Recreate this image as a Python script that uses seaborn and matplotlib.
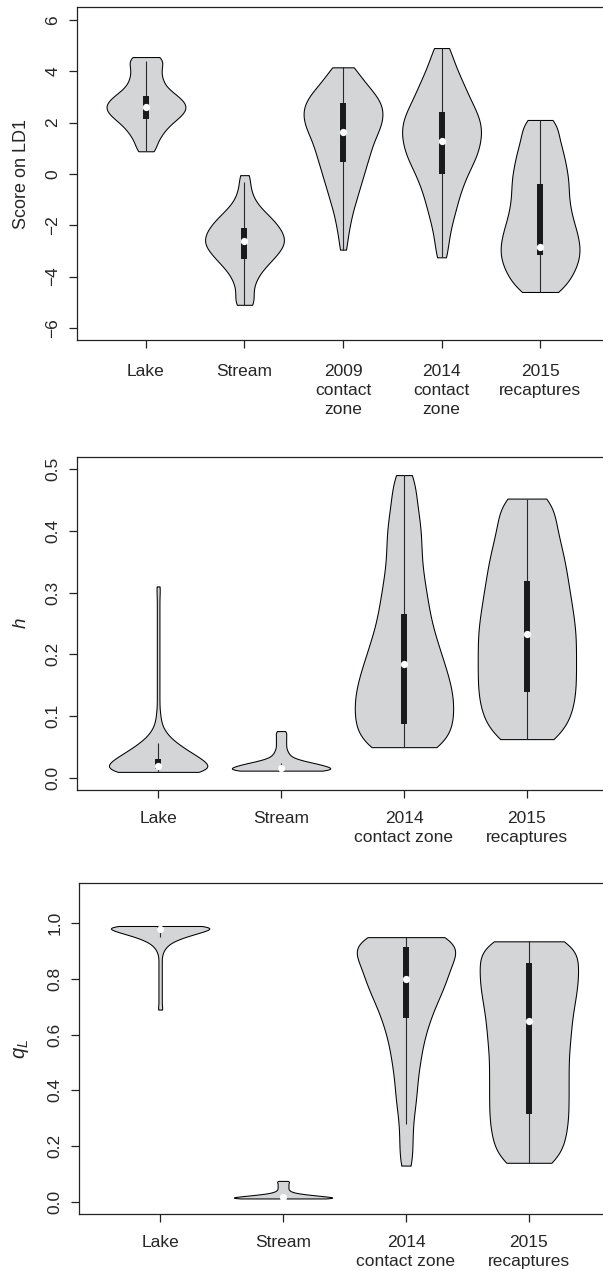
import numpy as np
import matplotlib
matplotlib.use("Agg")
import matplotlib.pyplot as plt
import seaborn as sns

# ==========================================================
# Group labels
# ==========================================================

ld1_groups = ["Lake", "Stream", "2009\ncontact\nzone", "2014\ncontact\nzone", "2015\nrecaptures"]
hq_groups = ["Lake", "Stream", "2014\ncontact zone", "2015\nrecaptures"]

# ==========================================================
# Score on LD1 - violin profiles (level, relative count)
# ==========================================================

ld1_lake_y = [0.88, 1.1, 1.35, 1.6, 1.85, 2.1, 2.35, 2.6, 2.85, 3.1, 3.35, 3.6, 3.85, 4.1, 4.35, 4.55]
ld1_lake_n = [5, 4, 6, 8, 10, 14, 18, 20, 18, 14, 9, 8, 7, 7, 7, 9]

ld1_stream_y = [-5.1, -4.8, -4.5, -4.2, -3.9, -3.6, -3.3, -3.0, -2.7, -2.4, -2.1, -1.8, -1.5, -1.2, -0.9, -0.6, -0.3, -0.05]
ld1_stream_n = [6, 4, 4, 5, 7, 10, 14, 17, 20, 19, 17, 14, 10, 6, 4, 3, 2, 3]

ld1_2009_y = [-2.95, -2.55, -2.15, -1.75, -1.35, -0.95, -0.55, -0.15, 0.25, 0.65, 1.05, 1.45, 1.85, 2.25, 2.65, 3.05, 3.45, 3.85, 4.15]
ld1_2009_n = [2, 2, 3, 4, 5, 7, 8, 10, 11, 13, 14, 16, 19, 20, 20, 17, 12, 7, 5]

ld1_2014_y = [-3.25, -2.8, -2.35, -1.9, -1.45, -1.0, -0.55, -0.1, 0.35, 0.8, 1.25, 1.7, 2.15, 2.6, 3.05, 3.5, 3.95, 4.4, 4.9]
ld1_2014_n = [3, 3, 4, 5, 7, 8, 10, 12, 15, 18, 19, 20, 19, 16, 13, 11, 8, 6, 5]

ld1_2015_y = [-4.6, -4.2, -3.8, -3.4, -3.0, -2.6, -2.2, -1.8, -1.4, -1.0, -0.6, -0.2, 0.2, 0.6, 1.0, 1.4, 1.8, 2.1]
ld1_2015_n = [11, 14, 17, 19, 20, 19, 18, 16, 15, 14, 14, 14, 13, 12, 11, 9, 8, 7]

# box stats: q1, median, q3, whisker low / high
ld1_q1 = [2.15, -3.3, 0.45, -0.02, -3.15]
ld1_med = [2.62, -2.62, 1.62, 1.28, -2.85]
ld1_q3 = [3.05, -2.1, 2.75, 2.42, -0.38]
ld1_lo = [0.88, -5.1, -2.95, -3.25, -4.6]
ld1_hi = [4.4, -0.3, 4.15, 4.9, 2.1]

# ==========================================================
# h - violin profiles
# ==========================================================

h_lake_y = [0.01, 0.02, 0.03, 0.04, 0.05, 0.06, 0.07, 0.08, 0.09, 0.10, 0.11, 0.12, 0.13, 0.14, 0.15, 0.16,
            0.17, 0.18, 0.19, 0.20, 0.21, 0.22, 0.23, 0.24, 0.25, 0.26, 0.27, 0.28, 0.29, 0.30, 0.31]
h_lake_n = [48, 40, 35, 26, 19, 12, 7, 4, 2, 2, 1, 1, 1, 1, 1, 1,
            1, 1, 1, 1, 1, 1, 1, 1, 1, 1, 1, 1, 1, 1, 2]

h_stream_y = [0.012, 0.016, 0.020, 0.024, 0.028, 0.032, 0.036, 0.040, 0.044, 0.048, 0.052, 0.056, 0.060,
              0.064, 0.068, 0.072, 0.076]
h_stream_n = [52, 39, 36, 27, 17, 10, 7, 6, 5, 4, 4, 4, 4, 4, 4, 4, 5]

h_2014_y = [0.05, 0.075, 0.1, 0.125, 0.15, 0.175, 0.2, 0.225, 0.25, 0.275, 0.3, 0.325, 0.35, 0.375, 0.4,
            0.425, 0.45, 0.475, 0.49]
h_2014_n = [18, 19, 20, 20, 19, 17, 15, 13, 11, 10, 9, 8, 7, 7, 7, 6, 5, 4, 3]

h_2015_y = [0.063, 0.088, 0.113, 0.138, 0.163, 0.188, 0.213, 0.238, 0.263, 0.288, 0.313, 0.338, 0.363,
            0.388, 0.413, 0.438, 0.452]
h_2015_n = [14, 17, 19, 20, 20, 20, 20, 20, 19, 18, 17, 16, 15, 13, 12, 9, 8]

h_q1 = [0.015, 0.012, 0.087, 0.14]
h_med = [0.02, 0.016, 0.184, 0.233]
h_q3 = [0.031, 0.018, 0.266, 0.319]
h_lo = [0.01, 0.012, 0.05, 0.063]
h_hi = [0.056, 0.024, 0.49, 0.452]

# ==========================================================
# qL - violin profiles
# ==========================================================

ql_lake_y = [0.69, 0.70, 0.71, 0.72, 0.73, 0.74, 0.75, 0.76, 0.77, 0.78, 0.79, 0.80, 0.81, 0.82, 0.83, 0.84,
             0.85, 0.86, 0.87, 0.88, 0.89, 0.90, 0.91, 0.92, 0.93, 0.94, 0.95, 0.96, 0.97, 0.98, 0.99]
ql_lake_n = [4, 2, 2, 2, 2, 2, 2, 2, 2, 2, 2, 2, 2, 2, 2, 2,
             2, 2, 2, 2, 3, 4, 6, 9, 13, 20, 29, 40, 54, 60, 81]

ql_stream_y = [0.012, 0.016, 0.020, 0.024, 0.028, 0.032, 0.036, 0.040, 0.044, 0.048, 0.052, 0.056, 0.060,
               0.064, 0.068, 0.072, 0.075]
ql_stream_n = [52, 37, 31, 22, 14, 9, 6, 5, 4, 4, 4, 4, 4, 4, 4, 4, 5]

ql_2014_y = [0.13, 0.18, 0.23, 0.28, 0.33, 0.38, 0.43, 0.48, 0.53, 0.58, 0.63, 0.68, 0.73, 0.78, 0.83,
             0.88, 0.92, 0.95]
ql_2014_n = [3, 3, 3, 3, 4, 5, 5, 6, 7, 8, 10, 12, 15, 18, 20, 20, 18, 20]

ql_2015_y = [0.14, 0.19, 0.24, 0.29, 0.34, 0.39, 0.44, 0.49, 0.54, 0.59, 0.64, 0.69, 0.74, 0.79, 0.84,
             0.89, 0.935]
ql_2015_n = [12, 14, 15, 16, 16, 16, 16, 16, 16, 17, 17, 18, 19, 20, 20, 19, 19]

ql_q1 = [0.972, 0.013, 0.66, 0.315]
ql_med = [0.981, 0.017, 0.80, 0.649]
ql_q3 = [0.988, 0.019, 0.915, 0.858]
ql_lo = [0.949, 0.012, 0.28, 0.14]
ql_hi = [0.99, 0.022, 0.95, 0.935]

# ==========================================================
# Style
# ==========================================================

sns.set_style("white")
plt.rcParams["font.family"] = ["Liberation Sans", "DejaVu Sans"]
plt.rcParams["mathtext.fontset"] = "custom"
plt.rcParams["mathtext.rm"] = "Liberation Sans"
plt.rcParams["mathtext.it"] = "Liberation Sans:italic"

FILL = "#d4d5d7"
FS = 12.5


def draw_panel(ax, groups, levels, counts, q1, med, q3, lo, hi, xpad):
    for i, g in enumerate(groups):
        vals = np.repeat(levels[i], counts[i])
        step = np.median(np.diff(levels[i]))
        sns.violinplot(x=[g] * len(vals), y=vals, order=groups, ax=ax,
                       cut=0, bw_method=1.0 * step / vals.std(ddof=1),
                       density_norm="width", width=0.8, gridsize=400,
                       inner=None, color=FILL, linecolor="black",
                       linewidth=0.75, saturation=1)
    pos = np.arange(len(groups))
    ax.vlines(pos, lo, hi, color="#2a2a2a", lw=0.8, zorder=3)
    ax.vlines(pos, q1, q3, color="#1a1a1a", lw=4.3, zorder=4)
    ax.plot(pos, med, "o", color="white", ms=5.2, mec="none", zorder=5)

    n = len(groups)
    pad = 0.7 if n == 5 else 0.66
    ax.set_xlim(-pad, n - 1 + pad)
    ax.set_xticks(pos)
    ax.set_xticklabels(groups, fontsize=FS, linespacing=1.35)
    ax.set_xlabel("")
    for s in ax.spines.values():
        s.set_visible(True)
        s.set_color("#222222")
        s.set_linewidth(0.9)
    ax.tick_params(direction="out", length=6, width=0.9, color="#222222",
                   labelsize=FS, bottom=True, left=True)
    ax.tick_params(axis="x", pad=xpad)
    ax.tick_params(axis="y", pad=6)


fig = plt.figure(figsize=(6.03, 12.71), dpi=100)

# ==========================================================
# Panel 1 - Score on LD1
# ==========================================================

ax1 = fig.add_axes([0.1277, 0.7323, 0.8823, 0.2618])
draw_panel(ax1, ld1_groups,
           [ld1_lake_y, ld1_stream_y, ld1_2009_y, ld1_2014_y, ld1_2015_y],
           [ld1_lake_n, ld1_stream_n, ld1_2009_n, ld1_2014_n, ld1_2015_n],
           ld1_q1, ld1_med, ld1_q3, ld1_lo, ld1_hi, xpad=11)
ax1.set_ylim(-6.48, 6.48)
ax1.set_yticks([-6, -4, -2, 0, 2, 4, 6])
ax1.set_ylabel("Score on LD1", fontsize=FS + 0.5)
ax1.yaxis.set_label_coords(-0.088, 0.5)

# ==========================================================
# Panel 2 - h
# ==========================================================

ax2 = fig.add_axes([0.1277, 0.3781, 0.8806, 0.2627])
draw_panel(ax2, hq_groups,
           [h_lake_y, h_stream_y, h_2014_y, h_2015_y],
           [h_lake_n, h_stream_n, h_2014_n, h_2015_n],
           h_q1, h_med, h_q3, h_lo, h_hi, xpad=8.5)
ax2.set_ylim(-0.02, 0.52)
ax2.set_yticks([0.0, 0.1, 0.2, 0.3, 0.4, 0.5])
ax2.set_yticklabels(["0.0", "0.1", "0.2", "0.3", "0.4", "0.5"])
ax2.set_ylabel("$h$", fontsize=FS + 1)
ax2.yaxis.set_label_coords(-0.088, 0.5)

# ==========================================================
# Panel 3 - qL
# ==========================================================

ax3 = fig.add_axes([0.1310, 0.0448, 0.8806, 0.2604])
draw_panel(ax3, hq_groups,
           [ql_lake_y, ql_stream_y, ql_2014_y, ql_2015_y],
           [ql_lake_n, ql_stream_n, ql_2014_n, ql_2015_n],
           ql_q1, ql_med, ql_q3, ql_lo, ql_hi, xpad=9)
ax3.set_ylim(-0.044, 1.144)
ax3.set_yticks([0.0, 0.2, 0.4, 0.6, 0.8, 1.0])
ax3.set_yticklabels(["0.0", "0.2", "0.4", "0.6", "0.8", "1.0"])
ax3.set_ylabel("$q_L$", fontsize=FS + 2)
ax3.yaxis.set_label_coords(-0.09, 0.5)

for ax in (ax1, ax2, ax3):
    for lab in ax.get_yticklabels():
        lab.set_va("center")
        lab.set_rotation(90)

fig.savefig("out.png", dpi=100)
